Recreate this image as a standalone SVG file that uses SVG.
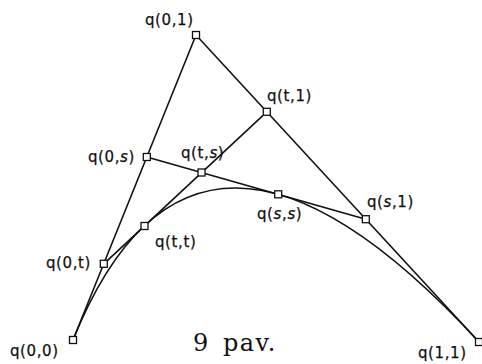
<svg xmlns="http://www.w3.org/2000/svg" width="482" height="364" viewBox="0 0 482 364">
<style>
.ln{fill:none;stroke:#111;stroke-width:1.6;stroke-linejoin:round}
.pt{fill:#fff;stroke:#111;stroke-width:1.3}
.lb{font-family:"DejaVu Sans",sans-serif;font-size:15px;letter-spacing:0.6px;fill:#111;stroke:#111;stroke-width:0.25}
.it{font-style:italic}
.cap{font-family:"DejaVu Serif","Liberation Serif",serif;font-size:24px;fill:#111;letter-spacing:1.5px;word-spacing:4px}
</style>
<rect width="482" height="364" fill="#fff"/>
<g id="connectors">
<line class="ln" x1="73" y1="340" x2="196" y2="35"/>
<line class="ln" x1="196" y1="35" x2="479" y2="342"/>
<line class="ln" x1="103.8" y1="263.8" x2="266.8" y2="111.8"/>
<line class="ln" x1="146.8" y1="157" x2="365.8" y2="219.2"/>
<path class="ln" d="M73,340 Q196,35 479,342"/>
</g>
<g id="q00"><rect class="pt" x="69.5" y="336.5" width="7" height="7"/><text class="lb" x="10" y="356">q(0,0)</text></g>
<g id="q0t"><rect class="pt" x="100.3" y="260.3" width="7" height="7"/><text class="lb" x="46" y="268">q(0,t)</text></g>
<g id="qtt"><rect class="pt" x="141" y="222.5" width="7" height="7"/><text class="lb" x="155" y="247">q(t,t)</text></g>
<g id="q01"><rect class="pt" x="192.5" y="31.5" width="7" height="7"/><text class="lb" x="145" y="25">q(0,1)</text></g>
<g id="q0s"><rect class="pt" x="143.3" y="153.5" width="7" height="7"/><text class="lb" x="88" y="162">q(0,<tspan class="it">s</tspan>)</text></g>
<g id="qts"><rect class="pt" x="198" y="169" width="7" height="7"/><text class="lb" x="181" y="158">q(t,<tspan class="it">s</tspan>)</text></g>
<g id="qt1"><rect class="pt" x="263.3" y="108.3" width="7" height="7"/><text class="lb" x="267" y="101">q(t,1)</text></g>
<g id="qss"><rect class="pt" x="274.7" y="190.8" width="7" height="7"/><text class="lb" x="257" y="219">q(<tspan class="it">s</tspan>,<tspan class="it">s</tspan>)</text></g>
<g id="qs1"><rect class="pt" x="362.3" y="215.7" width="7" height="7"/><text class="lb" x="367" y="207">q(<tspan class="it">s</tspan>,1)</text></g>
<g id="q11"><rect class="pt" x="475.5" y="338.5" width="7" height="7"/><text class="lb" x="418" y="358">q(1,1)</text></g>
<text class="cap" x="193" y="351">9 pav.</text>
</svg>
